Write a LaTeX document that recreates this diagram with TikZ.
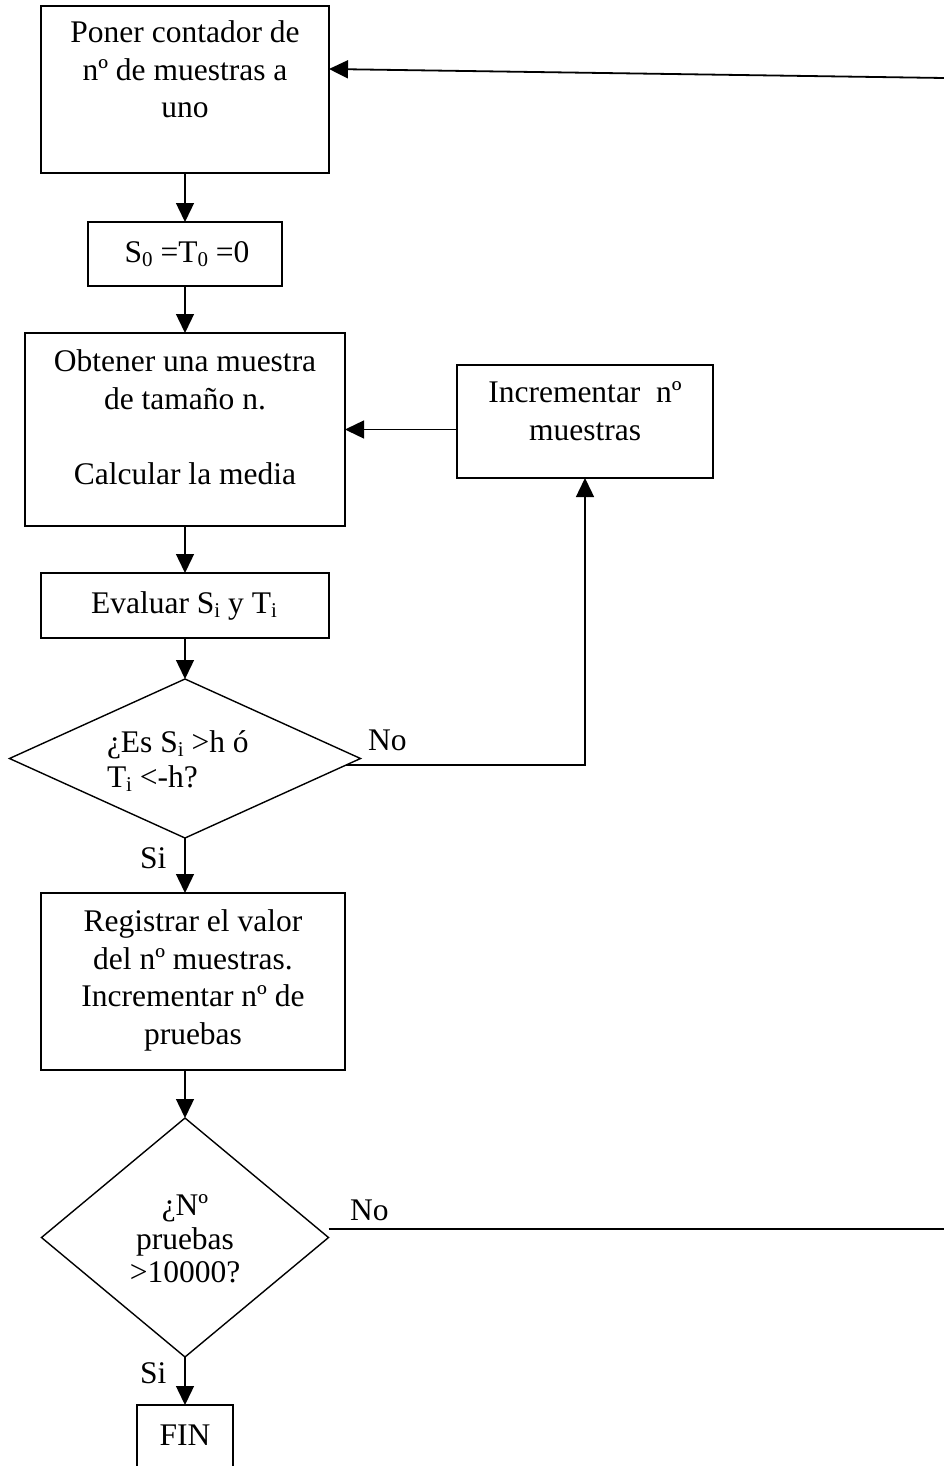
\documentclass[tikz,border=0pt]{standalone}
\usepackage{fontspec}
\setmainfont{Liberation Serif}
\usetikzlibrary{shapes.geometric,arrows.meta,calc}

% body text and lowered indices
\newcommand\flowfont{\fontsize{31.5pt}{37.5pt}\selectfont}
\newcommand\lowidx[1]{\raisebox{-4pt}{\fontsize{21pt}{21pt}\selectfont #1}}

\begin{document}
\begin{tikzpicture}[x=1pt,y=-1pt,
  box/.style={draw, line width=1.7pt, inner sep=0pt, outer sep=0pt},
  decision/.style={draw, diamond, line width=1.4pt, inner sep=0pt, outer sep=0pt},
  txt/.style={font=\flowfont, align=center, inner sep=0pt, outer sep=0pt, anchor=north,
              execute at begin node={\rule{0pt}{24pt}}},
  lbl/.style={font=\flowfont, inner sep=0pt, anchor=base west},
  flow/.style={line width=1.4pt, -{Triangle[length=19pt,width=18pt]}},
  wire/.style={line width=1.4pt}]

\useasboundingbox (0,0) rectangle (944,1466);
\clip (0,0) rectangle (944,1466);

% process boxes
\node[box, minimum width=288pt, minimum height=167pt] (b1) at (185,89.5) {};
\node[box, minimum width=194pt, minimum height=64pt]  (b2) at (185,254) {};
\node[box, minimum width=320pt, minimum height=193pt] (b3) at (185,429.5) {};
\node[box, minimum width=256pt, minimum height=113pt] (inc) at (585,421.5) {};
\node[box, minimum width=288pt, minimum height=65pt]  (b4) at (185,605.5) {};
\node[box, minimum width=304pt, minimum height=177pt] (b5) at (193,981.5) {};
\node[box, minimum width=96pt, minimum height=100pt]  (fin) at (185,1455) {};

% decisions
\node[decision, minimum width=351pt, minimum height=159pt] (d1) at (185,758.5) {};
\node[decision, minimum width=287pt, minimum height=239pt] (d2) at (185,1237.5) {};

% texts
\node[txt] (t1) at (185,21) {Poner contador de\\nº de muestras a\\uno};
\node[txt] (t2) at (187,238) {S\lowidx{0} =T\lowidx{0} =0};
\node[txt] (t3) at (185,350) {Obtener una muestra\\de tamaño n.\\[37.5pt]Calcular la media};
\node[txt] (tinc) at (585,382) {Incrementar\ \ nº\\muestras};
\node[txt] (t4) at (184,589) {Evaluar S\lowidx{i} y T\lowidx{i}};
\node[txt, align=left, anchor=north west, font=\fontsize{31.5pt}{35pt}\selectfont] (td1) at (107,731)
  {¿Es S\lowidx{i} >h ó\\T\lowidx{i} <-h?};
\node[txt] (t5) at (193,910) {Registrar el valor\\del nº muestras.\\Incrementar nº de\\pruebas};
\node[txt, font=\fontsize{31.5pt}{33.5pt}\selectfont] (td2) at (185,1195) {¿Nº\\pruebas\\>10000?};
\node[txt] (tfin) at (185,1421) {FIN};

% branch labels
\node[lbl] (no1) at (368,750) {No};
\node[lbl] (si1) at (140,868) {Si};
\node[lbl] (no2) at (350,1220) {No};
\node[lbl] (si2) at (140,1383) {Si};

% loose ends running off to the right
\coordinate (rtop) at (944,78);
\coordinate (rbot) at (944,1229);
\coordinate (d1out) at ($(d1.east)+(-14.3,6.5)$);
\coordinate (d2out) at ($(d2.east)+(0,-8.5)$);

% connectors
\draw[flow] (b1.south) -- (b2.north);
\draw[flow] (b2.south) -- (b3.north);
\draw[flow] (inc.west |- b3.east) -- (b3.east);
\draw[flow] (b3.south) -- (b4.north);
\draw[flow] (b4.south) -- (b4.south |- d1.north);
\draw[flow] (d1out) -- (inc.south |- d1out) -- (inc.south);
\draw[flow] (d1.south) -- (d1.south |- b5.north);
\draw[flow] (d2.north |- b5.south) -- (d2.north);
\draw[flow] (d2.south) -- (fin.north);
\draw[wire] (d2out) -- (rbot);
\draw[flow, line width=1.8pt] (rtop) -- ($(b1.east)+(0,-20.5)$);

\end{tikzpicture}
\end{document}
